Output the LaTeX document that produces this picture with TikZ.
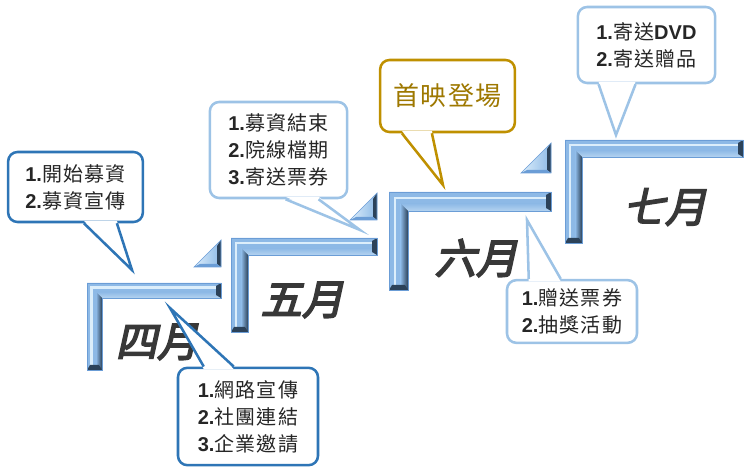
\documentclass[tikz,border=0pt]{standalone}
\usepackage{fontspec}
\setmainfont{Noto Sans CJK TC}
\newfontfamily\numfont{Liberation Sans}
\newfontfamily\calloutfont[LetterSpace=6]{Noto Sans CJK TC}
\newfontfamily\monthfont[FakeSlant=0.22,FakeBold=4]{Noto Sans CJK TC}
\usetikzlibrary{calc}
\definecolor{calloutblue}{HTML}{2E75B6}
\definecolor{calloutlight}{HTML}{9DC3E6}
\definecolor{calloutgold}{HTML}{BF9000}
\definecolor{goldtext}{HTML}{9E7800}
\definecolor{barlight}{HTML}{DCEEFB}
\definecolor{barmid}{HTML}{8DB9E6}
\definecolor{barouter}{HTML}{6B9DD6}
\definecolor{barinner}{HTML}{B4D3F0}
\definecolor{bardark}{HTML}{2C4259}
\definecolor{textgray}{HTML}{262626}
\definecolor{monthgray}{HTML}{383838}
\newcommand{\numb}[1]{{\numfont\bfseries #1}}
\begin{document}
\begin{tikzpicture}
[x=0.75pt,y=-0.75pt,
  calloutbox/.style={shape=rectangle,rounded corners=7pt,fill=white,line width=1.9pt,%
    inner sep=0pt,align=left,text=textgray,font=\calloutfont\fontsize{15}{20.25}\selectfont},
  monthtext/.style={font=\monthfont\fontsize{31}{31}\selectfont,text=monthgray},
  taildecorate/.style={line width=1.9pt,line join=miter}]
\useasboundingbox (0,0) rectangle (750,470);
%% brackets
\foreach \bx/\by/\br/\bb/\bt in {87/283/221/370/15, 231/238/377/332/17, 389/192/551/290/19, 565/140/743/243/17} {
  \fill[barmid] (\bx,\by) -- (\br,\by) -- (\br,\by+\bt) -- (\bx+\bt,\by+\bt)
    -- (\bx+\bt,\bb) -- (\bx,\bb) -- cycle;
  \shade[top color=barmid, bottom color=barinner]
    (\bx+\bt*.6,\by+\bt*.6) -- (\br,\by+\bt*.6) -- (\br,\by+\bt) -- (\bx+\bt,\by+\bt) -- cycle;
  \shade[left color=barmid, right color=bardark]
    (\bx+\bt*.6,\by+\bt*.6) -- (\bx+\bt,\by+\bt) -- (\bx+\bt,\bb) -- (\bx+\bt*.6,\bb) -- cycle;
  \draw[barlight,line width=1.6pt] (\br-4,\by+\bt*.3) -- (\bx+\bt*.3,\by+\bt*.3) -- (\bx+\bt*.3,\bb-4);
  \fill[bardark] (\br-5,\by+3) -- (\br,\by) -- (\br,\by+\bt) -- (\br-5,\by+\bt-3) -- cycle;
  \fill[bardark] (\bx+3,\bb-5) -- (\bx+\bt-3,\bb-5) -- (\bx+\bt,\bb) -- (\bx,\bb) -- cycle;
  \draw[barouter,line width=0.5pt] (\bx,\by) -- (\br,\by) -- (\br,\by+\bt) -- (\bx+\bt,\by+\bt)
    -- (\bx+\bt,\bb) -- (\bx,\bb) -- cycle;
}
%% steps
\foreach \br/\by/\bh in {221/240/27, 377/193/27, 551/143/30} {
  \shade[left color=barlight, right color=barmid] (\br,\by) -- (\br,\by+\bh) -- (\br-\bh,\by+\bh) -- cycle;
  \fill[bardark] (\br,\by) -- (\br,\by+\bh) -- (\br-4,\by+\bh-3) -- (\br-4,\by+6) -- cycle;
  \fill[barouter] (\br-\bh,\by+\bh) -- (\br,\by+\bh) -- (\br-4,\by+\bh-3) -- (\br-\bh+6,\by+\bh-3) -- cycle;
  \draw[barouter,line width=0.5pt] (\br,\by) -- (\br,\by+\bh) -- (\br-\bh,\by+\bh) -- cycle;
}
%% months
\node[monthtext] (apr) at (157,342) {四月};
\node[monthtext] (may) at (302,300) {五月};
\node[monthtext] (jun) at (476,258) {六月};
\node[monthtext] (jul) at (665,207) {七月};
%% callouts
\node[calloutbox,draw=calloutblue,minimum width=101pt,minimum height=52.5pt] (fund) at (75.5,187)
  {\numb{1.}開始募資\\\numb{2.}募資宣傳};
\node[calloutbox,draw=calloutblue,minimum width=105pt,minimum height=73pt] (web) at (248,416.5)
  {\numb{1.}網路宣傳\\\numb{2.}社團連結\\\numb{3.}企業邀請};
\node[calloutbox,draw=calloutlight,minimum width=103pt,minimum height=72pt] (close) at (278.5,150)
  {\numb{1.}募資結束\\\numb{2.}院線檔期\\\numb{3.}寄送票券};
\node[calloutbox,draw=calloutgold,text=goldtext,minimum width=101pt,minimum height=54pt,%
  font=\calloutfont\fontsize{19.5}{19.5}\selectfont] (premiere) at (447.5,96) {首映登場};
\node[calloutbox,draw=calloutlight,minimum width=97.5pt,minimum height=47pt] (gift) at (572,311.5)
  {\numb{1.}贈送票券\\\numb{2.}抽獎活動};
\node[calloutbox,draw=calloutlight,minimum width=103pt,minimum height=57pt] (dvd) at (646.5,45)
  {\numb{1.}寄送\numb{DVD}\\\numb{2.}寄送贈品};
%% tails
\coordinate (tipfund) at (132,270);
\coordinate (tipweb) at (170,308);
\coordinate (tipclose) at (360,230);
\coordinate (tippremiere) at (443,185);
\coordinate (tipgift) at (527,220);
\coordinate (tipdvd) at (616,135);
\foreach \cb/\corner/\lo/\hi/\dy/\col in {fund/south west/77/110/-2.5/calloutblue,
  web/north west/27/57/2.5/calloutblue, close/south west/77/110/-2.5/calloutlight,
  premiere/south west/23/53/-2.5/calloutgold, gift/north west/23/55/2.5/calloutlight,
  dvd/south west/22/59/-2.5/calloutlight} {
  \fill[white] ($(\cb.\corner)+(\lo,\dy)$) -- (tip\cb) -- ($(\cb.\corner)+(\hi,\dy)$) -- cycle;
  \draw[taildecorate,\col] ($(\cb.\corner)+(\lo,0)$) -- (tip\cb) -- ($(\cb.\corner)+(\hi,0)$);
}
\end{tikzpicture}
\end{document}
